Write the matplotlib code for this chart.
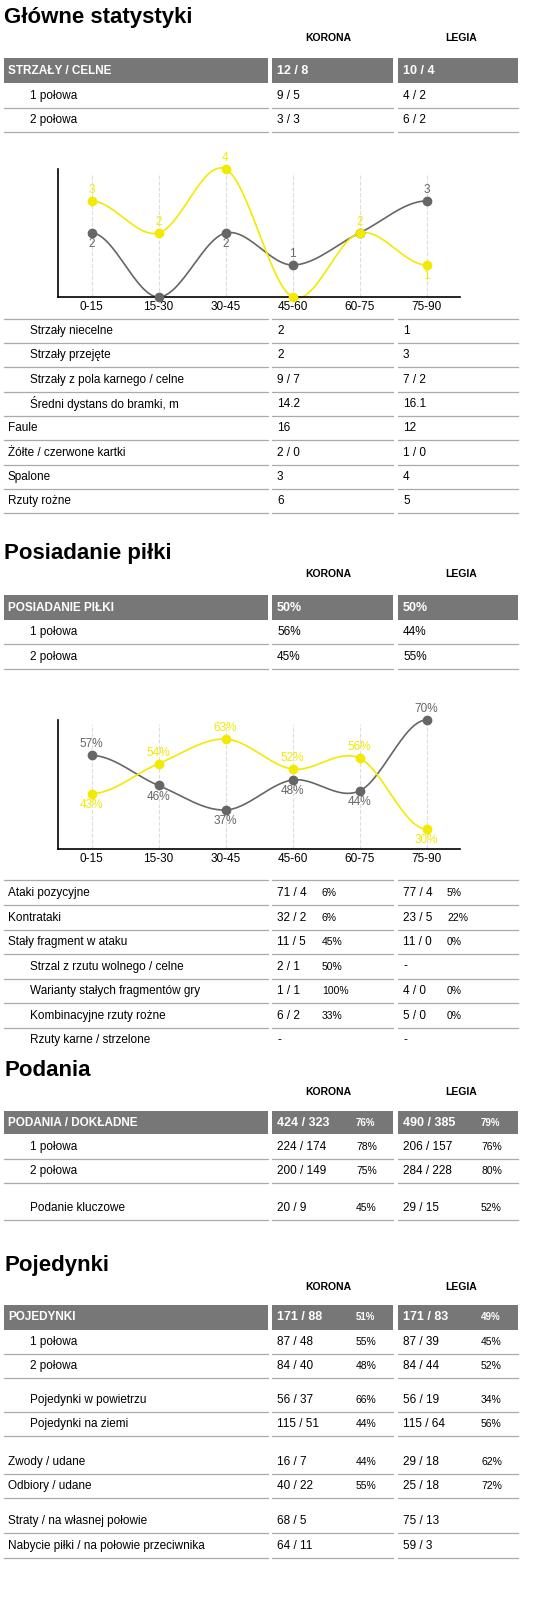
import matplotlib.pyplot as plt
import numpy as np

plt.rcParams['font.family'] = ['Liberation Sans Narrow', 'Liberation Sans', 'DejaVu Sans']

W, H = 543, 1609
YELLOW = '#f2ea00'
GREY = '#666666'
BAR = '#777777'
LINE = '#aaaaaa'

periods = ['0-15', '15-30', '30-45', '45-60', '60-75', '75-90']
shots_korona = [3, 2, 4, 0, 2, 1]
shots_legia = [2, 0, 2, 1, 2, 3]
poss_korona = [43, 54, 63, 52, 56, 30]
poss_legia = [57, 46, 37, 48, 44, 70]

main_rows = [
    ('Strzały niecelne', '2', '1', True),
    ('Strzały przejęte', '2', '3', True),
    ('Strzały z pola karnego / celne', '9 / 7', '7 / 2', True),
    ('Średni dystans do bramki, m', '14.2', '16.1', True),
    ('Faule', '16', '12', False),
    ('Żółte / czerwone kartki', '2 / 0', '1 / 0', False),
    ('Spalone', '3', '4', False),
    ('Rzuty rożne', '6', '5', False),
]
poss_rows = [
    ('Ataki pozycyjne', '71 / 4', '6%', '77 / 4', '5%', False),
    ('Kontrataki', '32 / 2', '6%', '23 / 5', '22%', False),
    ('Stały fragment w ataku', '11 / 5', '45%', '11 / 0', '0%', False),
    ('Strzal z rzutu wolnego / celne', '2 / 1', '50%', '-', '', True),
    ('Warianty stałych fragmentów gry', '1 / 1', '100%', '4 / 0', '0%', True),
    ('Kombinacyjne rzuty rożne', '6 / 2', '33%', '5 / 0', '0%', True),
    ('Rzuty karne / strzelone', '-', '', '-', '', True),
]

fig = plt.figure(figsize=(W / 100, H / 100), dpi=100)
ax = fig.add_axes([0, 0, 1, 1])
ax.set_xlim(0, W)
ax.set_ylim(H, 0)
ax.axis('off')

FS = 8.5
COLS = [(4, 268), (272, 393), (398, 518)]


def title(y, text):
    ax.text(4, y, text, fontsize=16, fontweight='bold', va='center')
    ax.text(328, y + 21, 'KORONA', fontsize=7.5, fontweight='bold', va='center', ha='center')
    ax.text(461, y + 21, 'LEGIA', fontsize=7.5, fontweight='bold', va='center', ha='center')


def header(y0, y1, label, k, l, kp='', lp=''):
    for x0, x1 in COLS:
        ax.add_patch(plt.Rectangle((x0, y0), x1 - x0, y1 - y0, color=BAR, lw=0))
    ym = (y0 + y1) / 2
    ax.text(8, ym, label, color='white', fontsize=FS, fontweight='bold', va='center')
    ax.text(277, ym, k, color='white', fontsize=FS + 0.5, fontweight='bold', va='center')
    ax.text(403, ym, l, color='white', fontsize=FS + 0.5, fontweight='bold', va='center')
    if kp:
        ax.text(356, ym, kp, color='white', fontsize=FS - 1.5, fontweight='bold', va='center')
        ax.text(481, ym, lp, color='white', fontsize=FS - 1.5, fontweight='bold', va='center')


def row(y, label, k, l, indent=True, kp='', lp='', px=(322, 447), line=True):
    ax.text(30 if indent else 8, y, label, fontsize=FS, va='center')
    ax.text(277, y, k, fontsize=FS, va='center')
    ax.text(403, y, l, fontsize=FS, va='center')
    if kp:
        ax.text(px[0], y, kp, fontsize=FS - 1, va='center')
    if lp:
        ax.text(px[1], y, lp, fontsize=FS - 1, va='center')
    if line:
        for x0, x1 in COLS:
            ax.plot([x0, x1], [y + 12, y + 12], color=LINE, lw=0.9)


def smooth(vals, n=30):
    x = np.arange(len(vals), dtype=float)
    y = np.array(vals, dtype=float)
    xs, ys = [], []
    for i in range(len(x) - 1):
        y0 = y[i - 1] if i > 0 else y[i]
        y3 = y[i + 2] if i + 2 < len(y) else y[i + 1]
        m1 = (y[i + 1] - y0) / 2 if i > 0 else 0
        m2 = (y3 - y[i]) / 2 if i + 2 < len(y) else 0
        t = np.linspace(0, 1, n)
        h00 = 2 * t**3 - 3 * t**2 + 1
        h10 = t**3 - 2 * t**2 + t
        h01 = -2 * t**3 + 3 * t**2
        h11 = t**3 - t**2
        xs.append(x[i] + t)
        ys.append(h00 * y[i] + h10 * m1 + h01 * y[i + 1] + h11 * m2)
    return np.concatenate(xs), np.concatenate(ys)


def chart(ytop, ybot, yel, gry, ylim, suffix, off):
    cax = fig.add_axes([58 / W, 1 - ybot / H, 402 / W, (ybot - ytop) / H])
    cax.set_xlim(-0.5, 5.5)
    cax.set_ylim(*ylim)
    for s in ['top', 'right']:
        cax.spines[s].set_visible(False)
    cax.spines['left'].set_linewidth(1.2)
    cax.spines['bottom'].set_linewidth(1.2)
    cax.set_yticks([])
    cax.set_xticks(range(len(periods)))
    cax.set_xticklabels(periods, fontsize=FS)
    cax.tick_params(axis='x', length=0, pad=3)
    for i in range(len(periods)):
        cax.axvline(i, color='#dddddd', ls='--', lw=0.8, ymax=0.97, zorder=0)
    for vals, c in [(gry, GREY), (yel, YELLOW)]:
        xs, ys = smooth(vals)
        cax.plot(xs, ys, color=c, lw=1.2, clip_on=False)
        cax.plot(range(len(vals)), vals, 'o', color=c, ms=6, clip_on=False, zorder=3)
    for i, (a, b) in enumerate(zip(yel, gry)):
        for v, o, c in [(a, b, YELLOW), (b, a, GREY)]:
            if v == 0 or (v == o and c == GREY):
                continue
            up = v >= o
            cax.annotate(f'{v}{suffix}', (i, v), xytext=(0, off if up else -off), textcoords='offset points',
                         ha='center', va='center', color=c, fontsize=FS, annotation_clip=False)
    return cax


# Section 1
title(17, 'Główne statystyki')
header(58, 83, 'STRZAŁY / CELNE', '12 / 8', '10 / 4')
row(96, '1 połowa', '9 / 5', '4 / 2')
row(120, '2 połowa', '3 / 3', '6 / 2')
chart(169, 297, shots_korona, shots_legia, (0, 4.0), '', 8)
for x0, x1 in COLS:
    ax.plot([x0, x1], [319, 319], color=LINE, lw=0.9)
for i, (lab, k, l, ind) in enumerate(main_rows):
    row(331 + i * 24.3, lab, k, l, indent=ind)

# Section 2
title(553, 'Posiadanie piłki')
header(595, 620, 'POSIADANIE PIŁKI', '50%', '50%')
row(632, '1 połowa', '56%', '44%')
row(657, '2 połowa', '45%', '55%')
chart(720, 849, poss_korona, poss_legia, (22.7, 70), '%', 8)
for x0, x1 in COLS:
    ax.plot([x0, x1], [880, 880], color=LINE, lw=0.9)
for i, (lab, k, kp, l, lp, ind) in enumerate(poss_rows):
    row(893 + i * 24.5, lab, k, l, indent=ind, kp=kp, lp=lp, line=i < len(poss_rows) - 1)

# Section 3
title(1071, 'Podania')
header(1111, 1134, 'PODANIA / DOKŁADNE', '424 / 323', '490 / 385', '76%', '79%')
PX = (356, 481)
row(1147, '1 połowa', '224 / 174', '206 / 157', kp='78%', lp='76%', px=PX)
row(1171, '2 połowa', '200 / 149', '284 / 228', kp='75%', lp='80%', px=PX)
row(1208, 'Podanie kluczowe', '20 / 9', '29 / 15', kp='45%', lp='52%', px=PX)

# Section 4
title(1266, 'Pojedynki')
header(1305, 1330, 'POJEDYNKI', '171 / 88', '171 / 83', '51%', '49%')
row(1342, '1 połowa', '87 / 48', '87 / 39', kp='55%', lp='45%', px=PX)
row(1366, '2 połowa', '84 / 40', '84 / 44', kp='48%', lp='52%', px=PX)
row(1400, 'Pojedynki w powietrzu', '56 / 37', '56 / 19', kp='66%', lp='34%', px=PX)
row(1424, 'Pojedynki na ziemi', '115 / 51', '115 / 64', kp='44%', lp='56%', px=PX)
row(1462, 'Zwody / udane', '16 / 7', '29 / 18', indent=False, kp='44%', lp='62%', px=PX)
row(1486, 'Odbiory / udane', '40 / 22', '25 / 18', indent=False, kp='55%', lp='72%', px=PX)
row(1521, 'Straty / na własnej połowie', '68 / 5', '75 / 13', indent=False)
row(1546, 'Nabycie piłki / na połowie przeciwnika', '64 / 11', '59 / 3', indent=False)

fig.savefig('out.png', dpi=100)
